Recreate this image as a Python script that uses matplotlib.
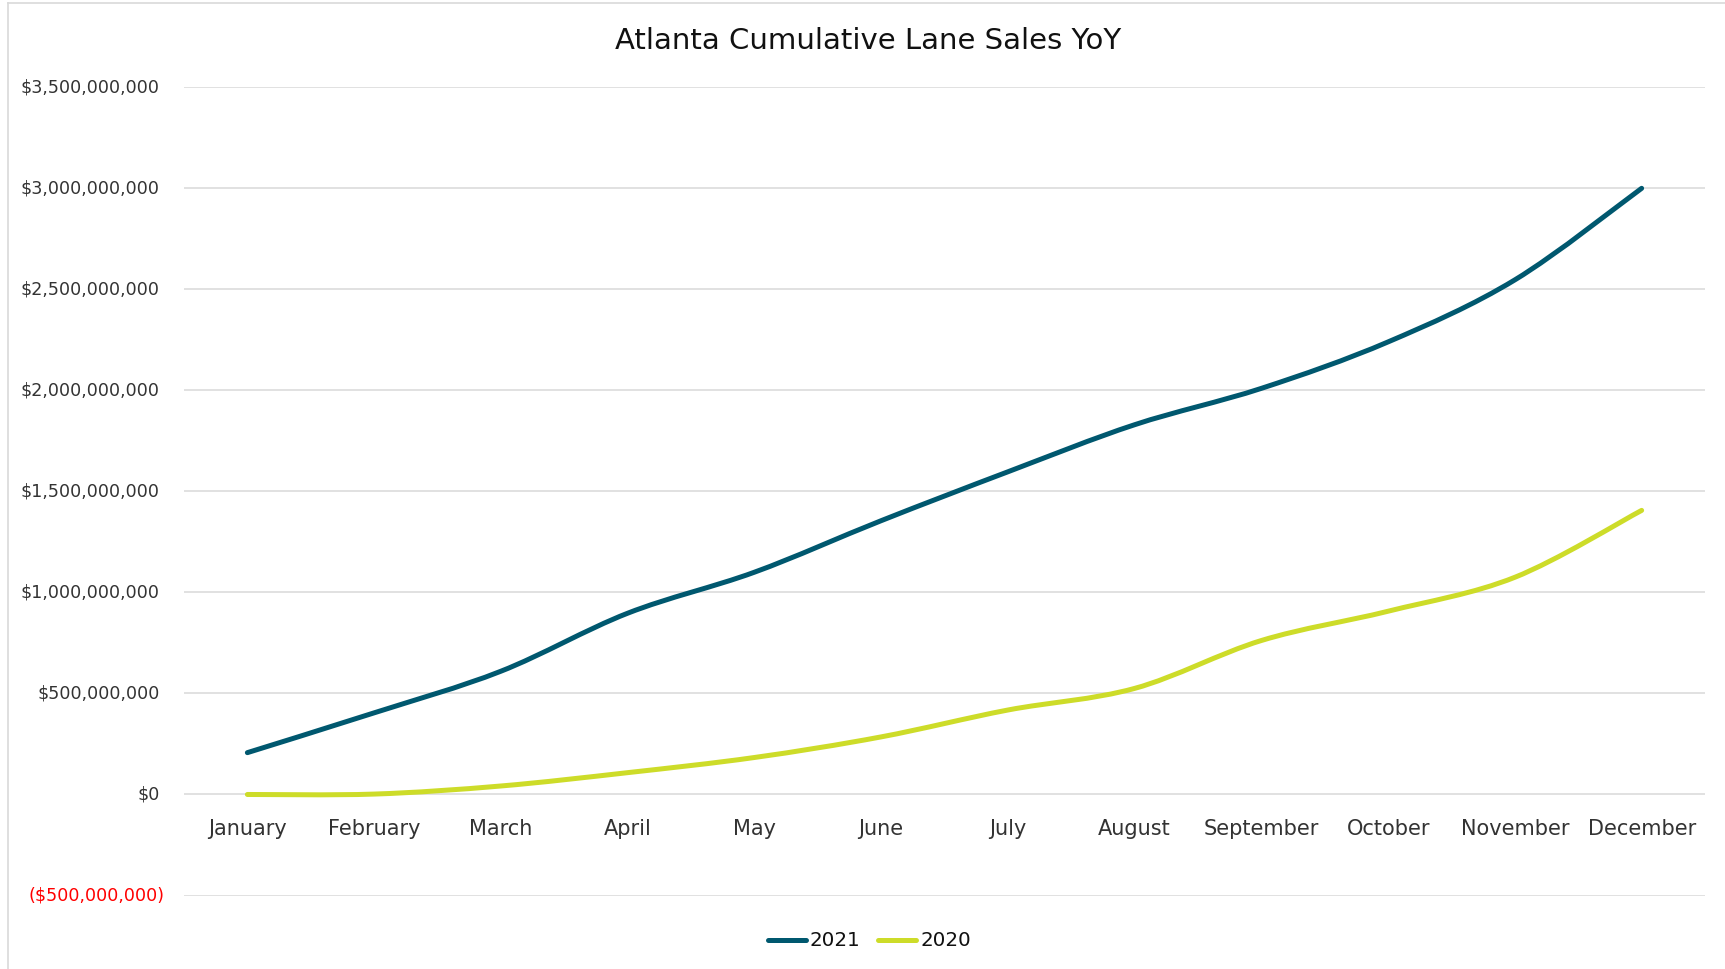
import matplotlib
matplotlib.use("Agg")
import matplotlib.pyplot as plt
from matplotlib.path import Path
from matplotlib.patches import PathPatch
from matplotlib.lines import Line2D

months = ["January", "February", "March", "April", "May", "June",
          "July", "August", "September", "October", "November", "December"]

# cumulative lane sales, in dollars
sales_2021 = [207e6, 404e6, 610e6, 897e6, 1100e6, 1355e6,
              1597e6, 1830e6, 2010e6, 2240e6, 2547e6, 3000e6]
sales_2020 = [0, 2e6, 42e6, 108e6, 183e6, 285e6,
              418e6, 525e6, 762e6, 907e6, 1075e6, 1406e6]

y_ticks = [-500e6, 0, 500e6, 1000e6, 1500e6, 2000e6, 2500e6, 3000e6, 3500e6]

color_2021 = "#00586f"
color_2020 = "#cddc29"
text_color = "#333333"


def smooth_path(xs, ys):
    # Excel-style smoothed line: cubic bezier segments through every point
    pts = list(zip(xs, ys))
    n = len(pts)
    verts = [pts[0]]
    codes = [Path.MOVETO]
    for i in range(n - 1):
        p0 = pts[max(i - 1, 0)]
        p1 = pts[i]
        p2 = pts[i + 1]
        p3 = pts[min(i + 2, n - 1)]
        c1 = (p1[0] + (p2[0] - p0[0]) / 6, p1[1] + (p2[1] - p0[1]) / 6)
        c2 = (p2[0] - (p3[0] - p1[0]) / 6, p2[1] - (p3[1] - p1[1]) / 6)
        verts += [c1, c2, p2]
        codes += [Path.CURVE4] * 3
    return Path(verts, codes)


fig = plt.figure(figsize=(17.25, 9.69), dpi=100)
ax = fig.add_axes([184 / 1725, 1 - 895.5 / 969, (1705 - 184) / 1725, (895.5 - 87.3) / 969])

x = list(range(len(months)))

for vals, col in [(sales_2020, color_2020), (sales_2021, color_2021)]:
    patch = PathPatch(smooth_path(x, vals), fill=False, edgecolor=col,
                      linewidth=3.6, capstyle="round", joinstyle="round", zorder=3)
    ax.add_patch(patch)

ax.set_xlim(-0.5, len(months) - 0.5)
ax.set_ylim(y_ticks[0], y_ticks[-1])

# horizontal gridlines only
for t in y_ticks:
    ax.axhline(t, color="#dedede", linewidth=1.3, zorder=1)

for s in ax.spines.values():
    s.set_visible(False)
ax.set_xticks([])
ax.set_yticks([])

# value axis labels, negatives in red with parentheses
for t in y_ticks:
    if t < 0:
        label = "(${:,.0f})".format(-t)
        ax.annotate(label, xy=(0, t), xycoords=("axes fraction", "data"),
                    xytext=(-13.7, 0), textcoords="offset points",
                    ha="right", va="center", fontsize=12.6, color="#ff0000")
    else:
        label = "${:,.0f}".format(t)
        ax.annotate(label, xy=(0, t), xycoords=("axes fraction", "data"),
                    xytext=(-17.3, 0), textcoords="offset points",
                    ha="right", va="center", fontsize=12.6, color=text_color)

# category labels sit just under the zero line
for i, m in enumerate(months):
    ax.annotate(m, xy=(i, 0), xycoords="data", xytext=(0, -24.5),
                textcoords="offset points", ha="center", va="center",
                fontsize=15, color=text_color)

fig.text(0.503, 1 - 40.7 / 969, "Atlanta Cumulative Lane Sales YoY",
         ha="center", va="center", fontsize=21, color="#111111")

handles = [Line2D([], [], color=color_2021, linewidth=3.6, solid_capstyle="round"),
           Line2D([], [], color=color_2020, linewidth=3.6, solid_capstyle="round")]
fig.legend(handles, ["2021", "2020"], loc="center", ncol=2,
           bbox_to_anchor=(0.504, 1 - 941 / 969), frameon=False,
           fontsize=14.3, handlelength=1.9, handletextpad=0.2,
           columnspacing=0.9, labelcolor="#111111")

# chart area border
fig.add_artist(Line2D([8 / 1725, 8 / 1725], [0, 1 - 3 / 969],
                      transform=fig.transFigure, color="#d9d9d9", linewidth=1.2))
fig.add_artist(Line2D([8 / 1725, 1], [1 - 3 / 969, 1 - 3 / 969],
                      transform=fig.transFigure, color="#d9d9d9", linewidth=1.2))

fig.savefig("out.png", dpi=100)
